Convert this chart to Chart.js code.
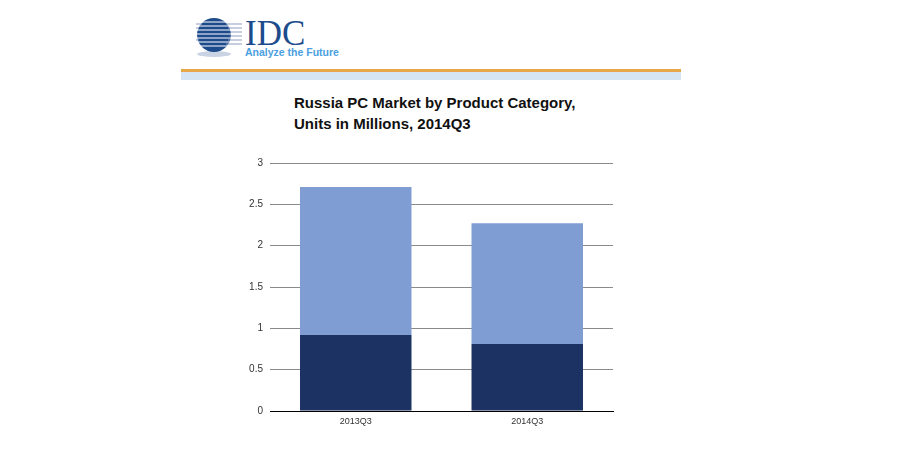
<!DOCTYPE html>
<html>
<head>
<meta charset="utf-8">
<script src="https://cdn.jsdelivr.net/npm/chart.js@4.4.1/dist/chart.umd.min.js"></script>
<style>
    body { margin: 0; background: #fff; width: 900px; height: 460px; overflow: hidden; position: relative; font-family: Arial, "Liberation Sans", sans-serif; }
    .logo { position: absolute; left: 190px; top: 10px; }
    .rule { position: absolute; left: 181px; top: 69px; width: 500px; height: 3px; background: #e8a84a; }
    .band { position: absolute; left: 181px; top: 72px; width: 500px; height: 8px; background: #d5e5f3; }
    .title { position: absolute; left: 294px; top: 92px; font-size: 15px; font-weight: bold; color: #111; line-height: 21px; }
    .wrap { position: absolute; left: 230px; top: 150px; width: 400px; height: 290px; }
</style>
</head>
<body>
<svg class="logo" width="150" height="50" viewBox="0 0 150 50">
    <ellipse cx="24" cy="44" rx="17" ry="3" fill="#c9d3e3"/>
    <circle cx="24" cy="25" r="17" fill="#1d4b8c"/>
    <g stroke="#fff" stroke-width="1">
        <line x1="5" y1="12" x2="43" y2="12"/>
        <line x1="5" y1="16" x2="43" y2="16"/>
        <line x1="5" y1="20" x2="43" y2="20"/>
        <line x1="5" y1="24" x2="43" y2="24"/>
        <line x1="5" y1="28" x2="43" y2="28"/>
        <line x1="5" y1="32" x2="43" y2="32"/>
        <line x1="5" y1="36" x2="43" y2="36"/>
    </g>
    <g stroke="#8e9cc0" stroke-width="1">
        <line x1="6" y1="14" x2="12" y2="14"/>
        <line x1="6" y1="18" x2="9" y2="18"/>
        <line x1="6" y1="30" x2="9" y2="30"/>
        <line x1="36" y1="14" x2="52" y2="14"/>
        <line x1="38" y1="18" x2="52" y2="18"/>
        <line x1="40" y1="22" x2="52" y2="22"/>
        <line x1="40" y1="26" x2="52" y2="26"/>
        <line x1="38" y1="30" x2="52" y2="30"/>
        <line x1="36" y1="34" x2="52" y2="34"/>
    </g>
    <text x="55" y="35" font-family="Liberation Serif, serif" font-size="35" fill="#1d4b8c">IDC</text>
    <text x="55" y="46" font-family="Arial, sans-serif" font-size="10.5" font-weight="bold" fill="#4aa0e0">Analyze the Future</text>
</svg>
<div class="rule"></div>
<div class="band"></div>
<div class="title">Russia PC Market by Product Category,<br>Units in Millions, 2014Q3</div>
<div class="wrap"><canvas id="myChart"></canvas></div>
<script>
let categories = ['2013Q3', '2014Q3'];
let desktops = [0.92, 0.81];
let portables = [1.79, 1.46];
let yTicks = [0, 0.5, 1, 1.5, 2, 2.5, 3];

let ctx = document.getElementById('myChart').getContext('2d');
let myChart = new Chart(ctx, {
    type: 'bar',
    data: {
        labels: categories,
        datasets: [{
            label: 'Desktop',
            data: desktops,
            backgroundColor: "#1b3262",
            categoryPercentage: 1,
            barPercentage: 0.65,
        }, {
            label: 'Portable',
            data: portables,
            backgroundColor: "#7f9dd3",
            categoryPercentage: 1,
            barPercentage: 0.65,
        }]
    },
    options: {
        responsive: true,
        maintainAspectRatio: false,
        animation: false,
        layout: {
            padding: { top: 12, right: 17, left: 0, bottom: 0 }
        },
        plugins: {
            legend: false,
            tooltip: { enabled: false }
        },
        scales: {
            x: {
                stacked: true,
                grid: { display: false, drawTicks: false },
                border: { color: '#000', width: 1 },
                ticks: { color: '#333', font: { size: 9, family: 'Arial' }, padding: 5 },
                afterFit: (scale) => { scale.height = 29; }
            },
            y: {
                stacked: true,
                min: 0,
                max: 3,
                afterBuildTicks: (scale) => { scale.ticks = yTicks.map(v => ({ value: v })); },
                grid: { color: '#8a8a8a', tickLength: 0 },
                border: { display: false },
                ticks: {
                    color: '#333',
                    font: { size: 10, family: 'Arial' },
                    padding: 7,
                    callback: (value) => String(value)
                },
                afterFit: (scale) => { scale.width = 40; }
            }
        }
    }
});
</script>
</body>
</html>
